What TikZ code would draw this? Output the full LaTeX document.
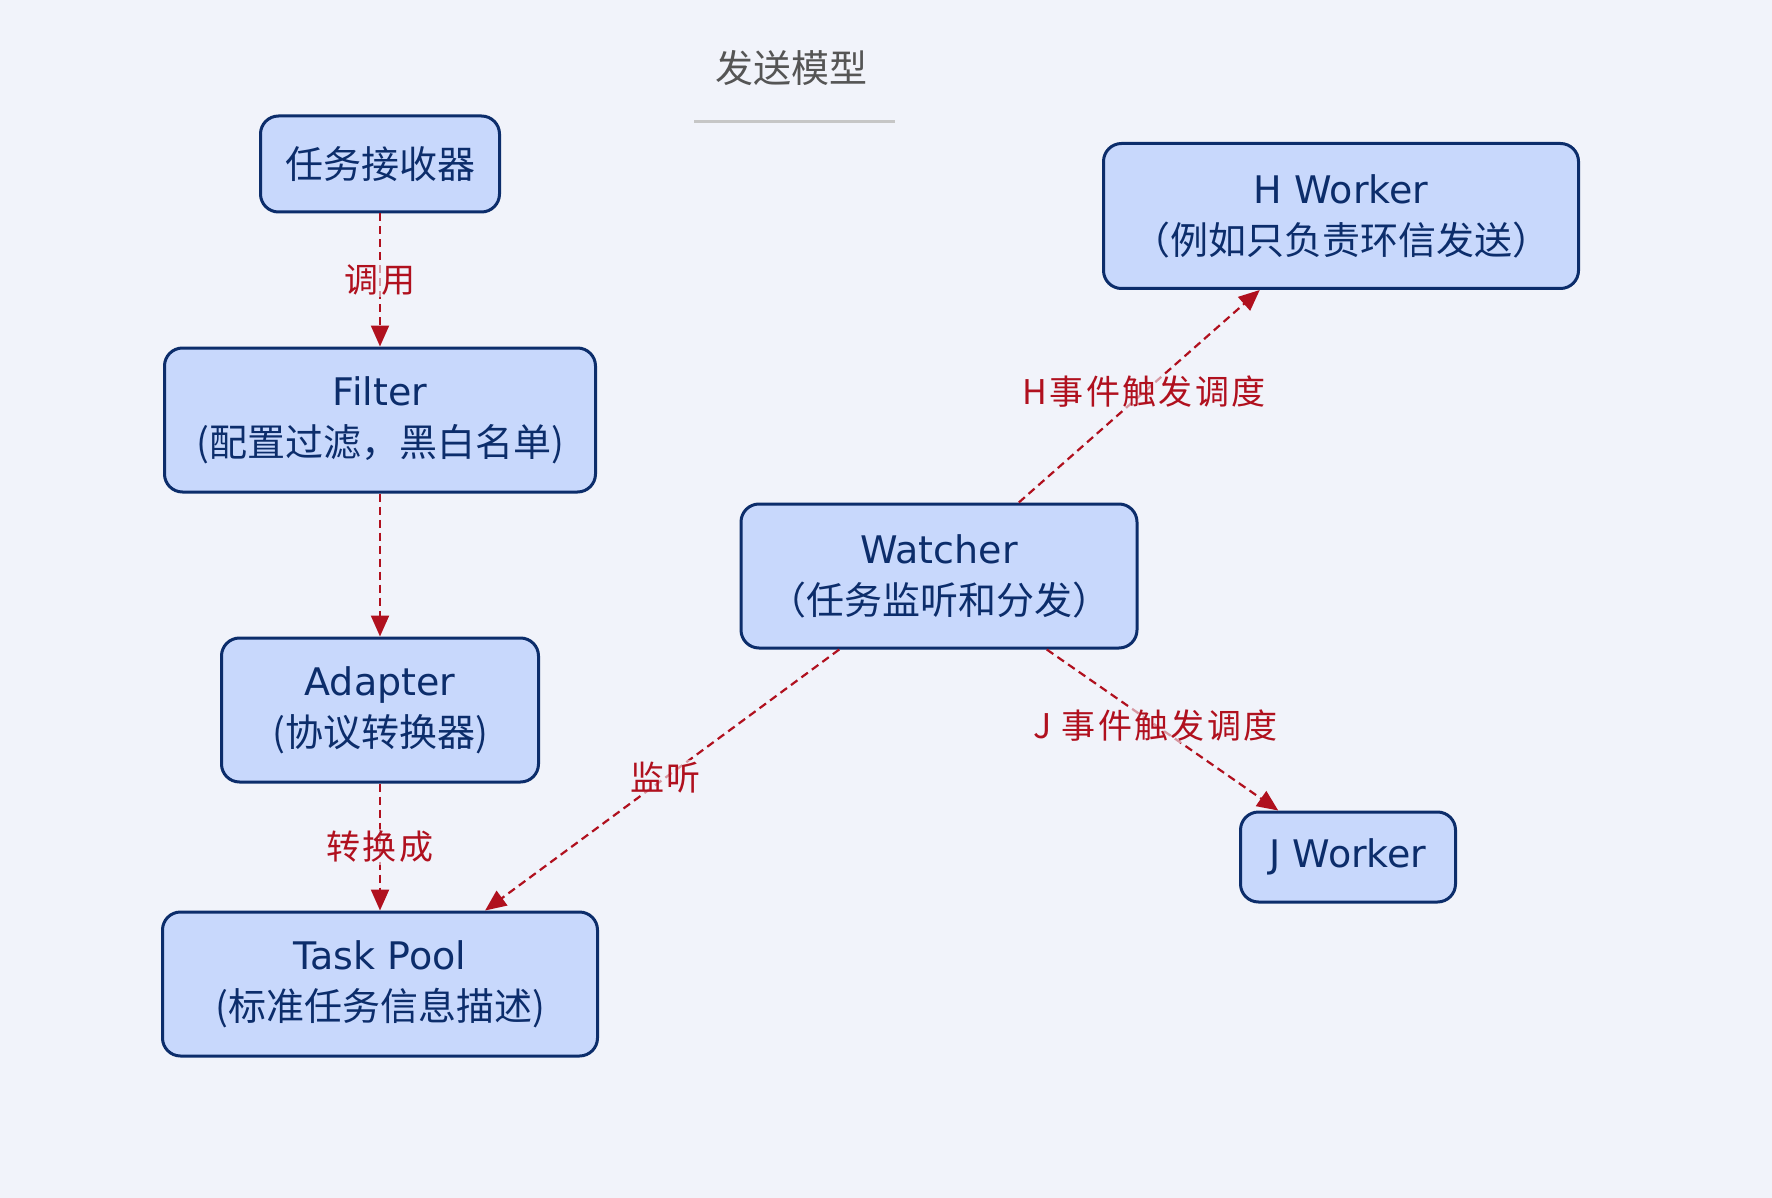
\documentclass[tikz,border=0pt]{standalone}
\usepackage{fontspec}
\setmainfont{DejaVu Sans}
\newfontfamily\cjk{Noto Sans CJK SC}
\newfontfamily\cjklabel[LetterSpace=7]{Noto Sans CJK SC}
\usepackage{tikz}
\usetikzlibrary{positioning}
\usetikzlibrary{calc,arrows.meta}
\definecolor{bgcol}{HTML}{F1F3FA}
\definecolor{boxfill}{HTML}{C8D8FC}
\definecolor{boxline}{HTML}{0C2D6B}
\definecolor{flowred}{HTML}{B0101E}
\definecolor{titlegray}{HTML}{555555}
\definecolor{rulegray}{HTML}{C6C6C6}
\tikzstyle{titlenode} = [draw=none, fill=none, text centered, text=titlegray, font=\cjk\fontsize{19}{24}\selectfont]
\tikzstyle{block} = [rectangle, draw=boxline, line width=1.5pt, fill=boxfill, rounded corners=9pt, text=boxline, align=center, minimum height=72pt, font=\fontsize{19}{25.5}\selectfont]
\tikzstyle{flow} = [draw=flowred, line width=1.1pt, dash pattern=on 4pt off 2.5pt, -{Triangle[length=10.5pt,width=9pt]}]
\tikzstyle{elabel} = [fill=bgcol, fill opacity=0.6, text opacity=1, text=flowred, inner sep=1pt, font=\cjklabel\fontsize{17}{20}\selectfont]

\begin{document}
\begin{tikzpicture}[x=0.5pt, y=-0.5pt]
	% background
	\fill [bgcol] (0,0) rectangle (1772,1198);
	\useasboundingbox (0,0) rectangle (1772,1198);

	% title node
	\node [titlenode] (N0) at (791,68) {发送模型};
	\draw [rulegray, line width=1.5pt] (694,122) -- (895,122);

	% place nodes
	\node [block, minimum width=119.5pt, minimum height=48pt] (R) at (380,164) {\cjk 任务接收器};
	\node [block, below of=R, node distance=128pt, minimum width=215.5pt] (F) {Filter\\\cjk (配置过滤，黑白名单)};
	\node [block, below of=F, node distance=145pt, minimum width=158.5pt] (A) {Adapter\\\cjk (协议转换器)};
	\node [block, below of=A, node distance=137pt, minimum width=217.5pt] (T) {Task Pool\\\cjk (标准任务信息描述)};
	\node [block, minimum width=198pt] (W) at (939,576) {Watcher\\\cjk （任务监听和分发）};
	\node [block, minimum width=237.5pt, minimum height=72.5pt] (H) at (1341,216) {H Worker\\\cjk （例如只负责环信发送）};
	\node [block, minimum width=107.5pt, minimum height=45pt] (J) at (1348,857) {J Worker};

	% draw edges
	\path [flow] (R) -- node [elabel] {调用} (F);
	\path [flow] (F) -- (A);
	\path [flow] (A) -- node [elabel] {转换成} (T);
	\path [flow] ($(W.south west)!0.25!(W.south east)$) -- node [elabel, pos=0.49] {监听} ($(T.north west)!0.74!(T.north east)$);
	\path [flow] ($(W.north west)!0.7!(W.north east)$) -- node [elabel, pos=0.52] {H事件触发调度} ($(H.south west)!0.33!(H.south east)$);
	\path [flow] ($(W.south west)!0.77!(W.south east)$) -- node [elabel, pos=0.47] {J 事件触发调度} ($(J.north west)!0.18!(J.north east)$);
\end{tikzpicture}
\end{document}
